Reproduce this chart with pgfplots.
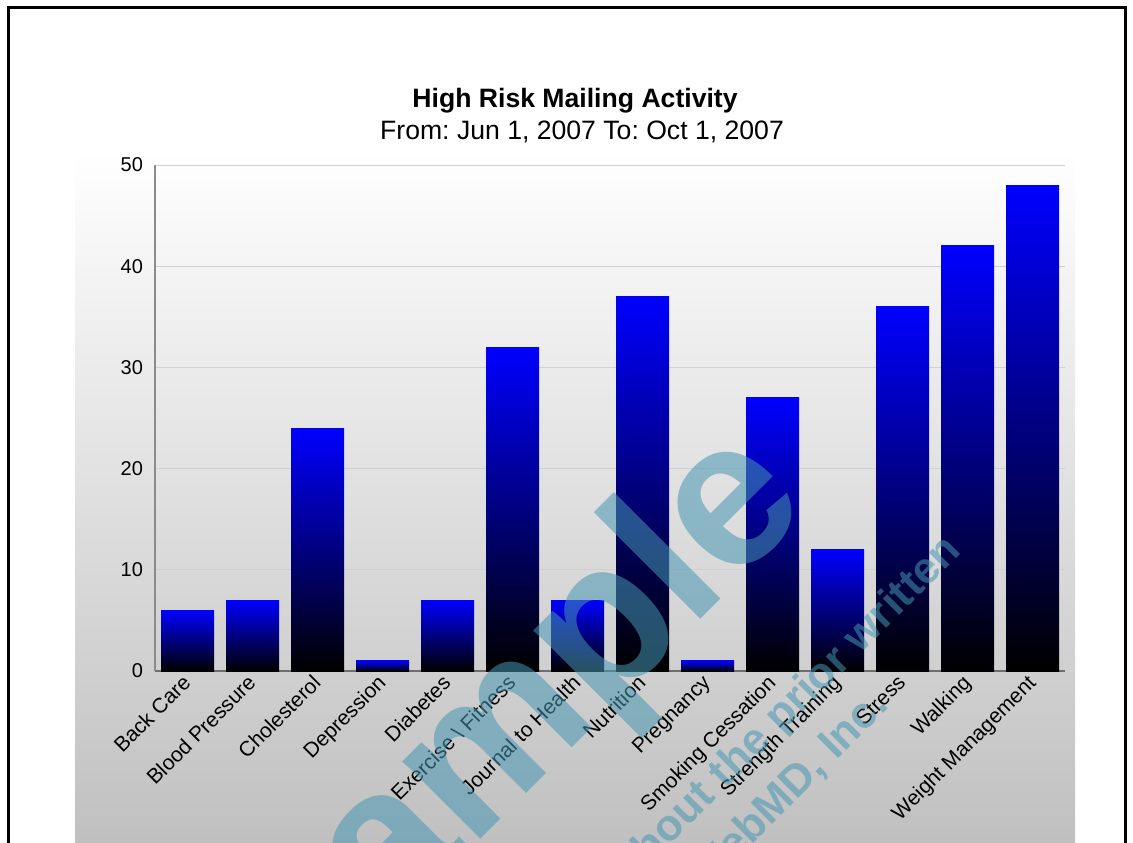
\documentclass[border=0pt]{standalone}
\usepackage{pgfplots}
\pgfplotsset{compat=1.18}
\usepackage{fontspec}
\setmainfont{Liberation Sans}

\definecolor{wm}{RGB}{70,150,178}
\definecolor{gridc}{RGB}{208,208,208}
\definecolor{axc}{RGB}{110,110,110}
\definecolor{panelbot}{RGB}{192,192,192}

% one bar per \addplot, so that every bar gets its own blue-to-black shading
\pgfplotsset{onebar/.style={ybar, bar width=26.5pt, bar shift=0pt, draw=none,
  top color=blue, bottom color=black, forget plot}}

\begin{document}
\frenchspacing
\begin{tikzpicture}
% background, frame and titles in pixel units (1px = 0.5pt, y downwards)
\begin{scope}[x=0.5pt,y=-0.5pt]
\useasboundingbox (0,0) rectangle (1133,842);
\begin{scope}
\clip (0,0) rectangle (1133,842);
\shade[top color=white, bottom color=panelbot] (75,150) rectangle (1075,842);
\draw[line width=1.5pt] (8.5,860) -- (8.5,7.5) -- (1125.5,7.5) -- (1125.5,860);
\end{scope}
\node[anchor=base, font=\fontsize{13.3}{15}\selectfont\bfseries] at (575,107) {High Risk Mailing Activity};
\node[anchor=base, font=\fontsize{13.3}{15}\selectfont] at (582,139) {From: Jun 1, 2007 To: Oct 1, 2007};
\end{scope}

\begin{axis}[
at={(77.5pt,-335.5pt)}, anchor=south west,
scale only axis,
width=455pt, height=253pt,
xmin=-0.5, xmax=13.5,
ymin=0, ymax=50,
axis x line=bottom,
axis y line=left,
x axis line style={-, draw=axc, line width=1pt},
y axis line style={-, draw=axc!80, line width=0.75pt},
major tick length=0pt,
ytick={0,10,...,50},
xtick={0,...,13},
xticklabels={Back Care, Blood Pressure, Cholesterol, Depression, Diabetes,
  Exercise \textbackslash{} Fitness, Journal to Health, Nutrition, Pregnancy,
  Smoking Cessation, Strength Training, Stress, Walking, Weight Management},
xticklabel style={rotate=45, anchor=north east, inner sep=1pt,
  xshift=-2pt, yshift=2.5pt, font=\fontsize{10.5}{12}\selectfont},
yticklabel style={font=\fontsize{10}{12}\selectfont, xshift=-2.5pt},
/pgf/number format/assume math mode=true,
ymajorgrids,
grid style={gridc, line width=0.5pt},
]
\addplot[onebar] coordinates {(0,6)};
\addplot[onebar] coordinates {(1,7)};
\addplot[onebar] coordinates {(2,24)};
\addplot[onebar] coordinates {(3,1)};
\addplot[onebar] coordinates {(4,7)};
\addplot[onebar] coordinates {(5,32)};
\addplot[onebar] coordinates {(6,7)};
\addplot[onebar] coordinates {(7,37)};
\addplot[onebar] coordinates {(8,1)};
\addplot[onebar] coordinates {(9,27)};
\addplot[onebar] coordinates {(10,12)};
\addplot[onebar] coordinates {(11,36)};
\addplot[onebar] coordinates {(12,42)};
\addplot[onebar] coordinates {(13,48)};
\end{axis}

% watermark
\begin{scope}[x=0.5pt,y=-0.5pt]
\clip (0,0) rectangle (1133,842);
\node[rotate=45, anchor=base, inner sep=0pt, text=wm, opacity=0.55,
  font=\fontsize{104}{104}\selectfont\bfseries] at (552,768) {Sample};
\node[rotate=45, anchor=base east, inner sep=0pt, text=wm, opacity=0.55,
  font=\fontsize{22}{22}\selectfont\bfseries] at (963,552) {without the prior written};
\node[rotate=45, anchor=base east, inner sep=0pt, text=wm, opacity=0.55,
  font=\fontsize{22}{22}\selectfont\bfseries] at (890,707) {consent of WebMD, Inc.};
\end{scope}
\end{tikzpicture}
\end{document}
